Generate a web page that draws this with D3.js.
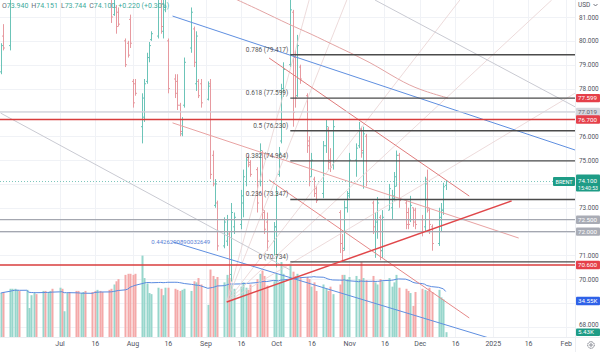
<!DOCTYPE html>
<html>
<head>
<meta charset="utf-8">
<script src="https://cdn.jsdelivr.net/npm/d3@7"></script>
<style>
  html, body { margin: 0; padding: 0; background: #fff; }
  svg { display: block; font-family: Roboto, "Liberation Sans", sans-serif; }
</style>
</head>
<body>
<svg id="chart" width="600" height="352"></svg>
<script>
// daily bars, weekdays from firstDay on
const firstDay = "2024-06-06";
const open = [
  78.7, 80.2,
  79.8, 81.8, 82.1, 82.8, 82.9,
  82.6, 84.4, 85.1, 85.2, 85.9,
  85.3, 86.4, 85.1, 85.2, 86.5,
  86.0, 87.0, 86.4, 87.1, 87.2,
  86.8, 85.9, 84.8, 85.3, 85.6,
  85.2, 84.6, 83.8, 85.3, 85.2,
  83.9, 82.4, 81.1, 81.4, 81.2,
  80.0, 79.9, 80.9, 78.3, 78.2,
  76.4, 76.8, 78.3, 79.3, 80.05,
  80.2, 82.0, 80.4, 81.3, 80.0,
  78.4, 78.3, 77.3, 76.1, 77.3,
  79.7, 80.5, 78.2, 78.3, 78.2,
  77.55, 78.2, 75.2, 73.1, 73.2,
  71.4, 71.6, 71.9, 70.2, 72.2,
  72.3, 73.2, 74.1, 75.1, 74.9,
  74.6, 74.1, 75.3, 72.8, 72.4,
  71.6, 72.2, 74.4, 75.8, 78.0,
  79.0, 81.2, 79.3, 77.7, 78.9,
  77.7, 75.8, 74.3, 74.2, 73.8,
  73.6, 75.6, 76.3, 75.0, 74.8,
  72.8, 71.5, 71.3, 73.0, 73.6,
  75.0, 75.6, 76.3, 75.3, 76.0,
  73.2, 72.0, 72.4, 72.6, 71.2,
  72.9, 73.0, 73.4, 73.9, 75.2,
  73.2, 72.8, 72.5, 73.0, 72.9,
  72.5, 72.2, 74.2, 72.9, 72.2,
  71.5, 72.5, 72.9, 73.94
];
const high = [
  79.9, 80.7,
  82.0, 82.4, 83.3, 83.1, 83.3,
  84.6, 85.3, 85.7, 86.0, 86.2,
  86.6, 86.5, 85.6, 86.6, 87.2,
  87.2, 87.4, 87.4, 87.5, 87.8,
  87.0, 86.0, 85.6, 86.0, 86.1,
  85.5, 84.8, 85.5, 85.7, 85.4,
  84.0, 82.6, 82.2, 81.5, 81.4,
  80.1, 80.0, 81.1, 78.4, 78.4,
  77.8, 78.4, 79.5, 79.95, 80.4,
  82.0, 82.3, 81.9, 82.3, 80.1,
  78.6, 78.6, 77.4, 76.8, 79.3,
  81.4, 80.6, 80.4, 78.4, 78.4,
  78.3, 78.4, 75.4, 74.2, 73.3,
  72.6, 72.7, 72.0, 73.2, 72.8,
  73.75, 74.6, 75.1, 75.2, 75.0,
  74.7, 75.7, 75.4, 72.9, 72.8,
  72.4, 73.9, 75.55, 78.2, 79.1,
  81.78, 81.3, 79.6, 80.25, 79.0,
  77.8, 76.0, 75.3, 74.3, 73.9,
  75.8, 76.7, 76.4, 75.5, 76.7,
  72.9, 71.9, 73.3, 73.7, 75.3,
  75.7, 76.6, 76.4, 76.4, 76.1,
  73.3, 72.8, 73.45, 72.7, 72.9,
  74.0, 73.75, 74.5, 75.4, 75.3,
  73.3, 73.0, 73.5, 73.0, 73.0,
  72.7, 74.3, 74.6, 73.0, 72.3,
  73.0, 73.2, 74.05, 74.151
];
const low = [
  78.6, 79.6,
  79.6, 81.8, 81.9, 82.0, 82.2,
  82.3, 84.0, 84.8, 84.9, 85.0,
  85.0, 84.8, 84.3, 84.9, 85.8,
  85.9, 86.3, 85.9, 86.8, 86.5,
  85.6, 84.4, 84.3, 84.9, 84.8,
  84.1, 83.4, 83.6, 84.7, 83.7,
  82.0, 80.75, 81.05, 80.3, 80.6,
  78.9, 79.3, 79.7, 77.2, 77.7,
  75.7, 76.6, 78.2, 79.1, 80.0,
  80.1, 80.3, 80.1, 81.2, 77.8,
  77.6, 77.1, 76.0, 76.0, 77.2,
  79.5, 78.9, 77.9, 77.6, 77.2,
  77.5, 74.2, 73.9, 73.0, 71.2,
  71.3, 71.4, 69.05, 69.9, 71.9,
  72.1, 72.6, 73.9, 74.7, 74.3,
  72.8, 73.9, 72.5, 71.9, 71.2,
  71.0, 70.5, 74.3, 75.7, 77.65,
  78.9, 76.4, 77.2, 77.65, 78.2,
  75.3, 73.9, 74.3, 73.45, 73.2,
  73.4, 75.3, 74.6, 74.5, 74.6,
  71.1, 70.734, 71.2, 72.8, 73.4,
  74.3, 75.5, 75.1, 73.8, 73.9,
  71.9, 70.9, 71.7, 70.8, 70.9,
  72.9, 72.5, 73.3, 73.9, 73.0,
  72.1, 72.1, 72.4, 72.2, 72.1,
  71.8, 72.0, 72.8, 71.9, 71.2,
  71.4, 72.0, 72.7, 73.744
];
const close = [
  79.8, 79.7,
  81.8, 82.1, 82.8, 82.9, 82.6,
  84.4, 85.1, 85.2, 85.9, 85.3,
  86.4, 85.1, 85.2, 86.5, 86.0,
  87.0, 86.4, 87.1, 87.2, 86.8,
  85.9, 84.8, 85.3, 85.6, 85.2,
  84.6, 83.8, 85.3, 85.2, 83.9,
  82.4, 81.0, 81.9, 80.6, 80.7,
  79.0, 79.4, 79.9, 77.4, 77.8,
  77.6, 78.2, 79.3, 79.8, 80.3,
  81.9, 80.6, 81.4, 82.0, 78.0,
  77.8, 77.3, 76.2, 76.7, 79.1,
  81.2, 79.1, 80.2, 77.7, 77.4,
  78.1, 74.4, 74.0, 74.0, 71.4,
  72.4, 72.5, 69.5, 72.8, 72.6,
  73.5, 74.3, 75.0, 74.8, 74.4,
  73.2, 75.4, 72.9, 72.1, 71.6,
  72.2, 73.6, 75.3, 78.0, 78.8,
  81.3, 77.0, 77.6, 79.8, 78.4,
  75.6, 74.1, 75.0, 73.6, 73.3,
  75.6, 76.4, 74.9, 74.7, 76.4,
  71.5, 71.2, 73.0, 73.5, 75.0,
  75.5, 76.3, 75.4, 76.1, 74.1,
  72.2, 72.5, 73.2, 71.2, 72.6,
  73.8, 73.5, 74.3, 75.2, 73.3,
  72.3, 72.3, 73.1, 72.4, 72.3,
  72.0, 74.0, 73.0, 72.3, 71.5,
  72.6, 72.9, 73.88, 74.1
];
// thousands of contracts
const volume = [
  42, 43,
  46, 46, 46, 45, 44,
  45, 28, 40, 42, 41,
  44, 44, 43, 44, 46,
  47, 46, 25, 42, 43,
  44, 44, 42, 43, 44,
  43, 44, 45, 44, 43,
  45, 46, 50, 53, 55,
  59, 60, 60, 59, 60,
  77, 56, 51, 42, 41,
  47, 46, 40, 47, 47,
  46, 45, 44, 45, 46,
  44, 53, 52, 56, 50,
  31, 64, 58, 55, 57,
  52, 59, 56, 50, 46,
  48, 52, 47, 45, 50,
  55, 60, 63, 58, 49,
  53, 60, 52, 71, 60,
  68, 62, 58, 60, 56,
  57, 55, 48, 52, 44,
  50, 46, 44, 48, 41,
  50, 59, 59, 55, 57,
  58, 55, 71, 56, 54,
  58, 52, 50, 55, 53,
  56, 48, 52, 59, 47,
  46, 44, 42, 30, 43,
  46, 45, 44, 47, 43,
  45, 38, 36, 5.43
];

const timeTicks  = ["2024-07-01", "2024-07-16", "2024-08-01", "2024-08-16", "2024-09-01", "2024-09-16",
                    "2024-10-01", "2024-10-16", "2024-11-01", "2024-11-16", "2024-12-01", "2024-12-16",
                    "2025-01-01", "2025-01-16", "2025-02-01"];
const timeLabels = ["Jul", "16", "Aug", "16", "Sep", "16", "Oct", "16", "Nov", "16", "Dec", "16", "2025", "16", "Feb"];
const gridPrices = [68, 69, 70, 71, 72, 73, 74, 75, 76, 77, 78, 79, 80, 81];
// levels whose axis label is not hidden by a price tag
const labelPrices = [68, 70, 71, 73, 75, 76, 78, 79, 80, 81];

// drawings (date, price)
const fibLevels = [0.786, 0.618, 0.5, 0.382, 0.236, 0];
const fibPrices = [79.417, 77.599, 76.230, 74.964, 73.347, 70.734];
const fibFrom = "2024-10-07";
const redLevels  = [76.7, 70.6];
const grayLevels = [72.5, 72.0];
const lightLevel = 77.019;
const lastPrice  = 74.1;
const volMALast  = 34.55;
const blueUpper  = [["2024-08-18", 81.04], ["2025-02-05", 75.42]];
const blueLower  = [["2024-08-18", 71.57], ["2025-01-02", 67.46]];
const triUpper   = [["2024-09-28", 79.28], ["2024-12-22", 73.49]];
const pinkMid    = [["2024-08-18", 76.56], ["2025-01-12", 71.73]];
const pinkLow    = [["2024-09-28", 74.17], ["2024-12-22", 68.38]];
const redRising  = [["2024-09-10", 69.05], ["2025-01-09", 73.29]];
const grayTop    = [["2024-11-12", 81.71], ["2025-02-05", 77.23]];
const grayLeft   = [["2024-06-06", 76.97], ["2024-10-07", 70.39]];
const envelope   = [["2024-09-10", 81.92], ["2024-09-24", 81.29], ["2024-10-07", 80.66], ["2024-10-15", 80.33],
                    ["2024-10-28", 79.70], ["2024-11-10", 79.11], ["2024-11-22", 78.36], ["2024-12-01", 77.94],
                    ["2024-12-13", 77.60]];
const fanPivot   = ["2024-09-10", 69.05];
const fanEnds    = [["2024-10-15", 81.71], ["2024-10-31", 81.71], ["2024-12-18", 81.71],
                    ["2025-01-26", 81.71], ["2025-02-05", 77.81]];
const ratioLabel = ["2024-08-09", 71.5, "0.4426290890032649"];

const TEAL = "#6cc4b8", PINK = "#e79aa0";
const VTEAL = "#97d6cc", VPINK = "#f4a9a9";
const plotW = 575, plotH = 337;
const FONT = "Roboto, 'Liberation Sans', sans-serif";

const parse = d3.timeParse("%Y-%m-%d");
const dates = [];
for (let d = parse(firstDay); dates.length < close.length; d = d3.timeDay.offset(d, 1)) {
    if (d.getDay() !== 0 && d.getDay() !== 6) dates.push(d);
}
const bars = dates.map((d, i) => ({ date: d, o: open[i], h: high[i], l: low[i], c: close[i], v: volume[i] }));
const volMA = volume.map((v, i) => d3.mean(volume.slice(Math.max(0, i - 19), i + 1)));

const x = d3.scaleTime().domain([parse("2024-07-01"), parse("2025-02-01")]).range([59.5, 565.8]);
const y = d3.scaleLinear().domain([67.58, 81.713]).range([337, 0]);
const yVol = d3.scaleLinear().domain([0, 100]).range([338, 231]);
const px = d => Math.round(x(d)) + 0.5;
const pt = p => [x(parse(p[0])), y(p[1])];

const svg = d3.select("#chart");
svg.append("rect").attr("width", 600).attr("height", 352).attr("fill", "#fff");
svg.append("defs").append("clipPath").attr("id", "plot")
    .append("rect").attr("width", plotW).attr("height", plotH);
const plot = svg.append("g").attr("clip-path", "url(#plot)");

// Grid
plot.append("g").selectAll("line").data(gridPrices).join("line")
    .attr("x1", 0).attr("x2", plotW)
    .attr("y1", d => Math.round(y(d)) + 0.5).attr("y2", d => Math.round(y(d)) + 0.5)
    .attr("stroke", "#f0f2f6");
plot.append("g").selectAll("line").data(timeTicks).join("line")
    .attr("x1", d => px(parse(d))).attr("x2", d => px(parse(d)))
    .attr("y1", 0).attr("y2", plotH)
    .attr("stroke", "#f0f2f6");

// Volume
plot.append("g").selectAll("rect").data(bars).join("rect")
    .attr("x", d => Math.round(x(d.date)) - 0.5).attr("width", 2)
    .attr("y", d => yVol(d.v)).attr("height", d => yVol(0) - yVol(d.v))
    .attr("fill", d => d.c >= d.o ? VTEAL : VPINK);
plot.append("path").datum(volMA)
    .attr("fill", "none").attr("stroke", "#5a8be0").attr("stroke-width", 1)
    .attr("d", d3.line().x((d, i) => x(dates[i])).y(d => yVol(d)));

// Price bars
const bar = plot.append("g").selectAll("g").data(bars).join("g")
    .attr("stroke", d => d.c >= d.o ? TEAL : PINK).attr("stroke-width", 1);
bar.append("line")
    .attr("x1", d => px(d.date)).attr("x2", d => px(d.date))
    .attr("y1", d => y(d.h)).attr("y2", d => y(d.l));
bar.append("line")
    .attr("x1", d => px(d.date) - 1.5).attr("x2", d => px(d.date))
    .attr("y1", d => y(d.o)).attr("y2", d => y(d.o));
bar.append("line")
    .attr("x1", d => px(d.date)).attr("x2", d => px(d.date) + 1.5)
    .attr("y1", d => y(d.c)).attr("y2", d => y(d.c));

// Drawings
const seg = (pts, color, width) => plot.append("path")
    .attr("d", d3.line()(pts.map(pt)))
    .attr("fill", "none").attr("stroke", color).attr("stroke-width", width);

fanEnds.forEach(e => seg([fanPivot, e], "#e8d2d2", 0.8));
seg(grayTop, "#c9cad2", 1);
seg(grayLeft, "#c9cad2", 1);
plot.append("path")
    .attr("d", d3.line().curve(d3.curveBasis)(envelope.map(pt)))
    .attr("fill", "none").attr("stroke", "#e3a4a4").attr("stroke-width", 1);
seg(blueUpper, "#5f8fe0", 1);
seg(blueLower, "#5f8fe0", 1);
seg(pinkMid, "#e9a3a3", 1);
seg(pinkLow, "#e58888", 1);
seg(triUpper, "#e07b7b", 1);

const hline = (p, x0, color, width, dash) => plot.append("line")
    .attr("x1", x0).attr("x2", plotW).attr("y1", y(p)).attr("y2", y(p))
    .attr("stroke", color).attr("stroke-width", width)
    .attr("stroke-dasharray", dash || null);

hline(lightLevel, 0, "#cfd1d8", 1.2);
grayLevels.forEach(p => hline(p, 0, "#a4a7b0", 1.2));
hline(lastPrice, 0, "#7cc7bc", 1, "1,2");
fibPrices.forEach(p => hline(p, x(parse(fibFrom)), "#4b4b4b", 1.3));
redLevels.forEach(p => hline(p, 0, "#d83c3c", 1.6));
seg(redRising, "#e0474a", 1.5);

plot.append("g").selectAll("text").data(fibLevels).join("text")
    .attr("x", x(parse(fibFrom)) - 2).attr("y", (d, i) => y(fibPrices[i]) - 3)
    .attr("text-anchor", "end").attr("font-size", 6.5).attr("fill", "#555")
    .text((d, i) => `${d} (${fibPrices[i].toFixed(3)})`);
plot.append("text")
    .attr("x", x(parse(ratioLabel[0]))).attr("y", y(ratioLabel[1]))
    .attr("font-size", 6).attr("fill", "#5a7fd6").text(ratioLabel[2]);

// Legend
const last = bars[bars.length - 1];
const prev = bars[bars.length - 2];
const chg = last.c - prev.c;
const leg = svg.append("text").attr("x", 2).attr("y", 8).attr("font-size", 7);
[["O", last.o], ["H", last.h], ["L", last.l], ["C", last.c]].forEach(([k, v], i) => {
    leg.append("tspan").attr("fill", "#6a6d78").attr("dx", i ? 3 : 0).text(k);
    leg.append("tspan").attr("fill", "#3daa9b").text(v.toFixed(3));
});
leg.append("tspan").attr("fill", "#3daa9b").attr("dx", 3)
    .text(`+${chg.toFixed(3)} (+${(chg / prev.c * 100).toFixed(2)}%)`);

// Axes
svg.append("line").attr("x1", 0).attr("x2", 600).attr("y1", plotH + 0.5).attr("y2", plotH + 0.5)
    .attr("stroke", "#eceef2");
svg.append("line").attr("x1", plotW + 0.5).attr("x2", plotW + 0.5).attr("y1", 0).attr("y2", 352)
    .attr("stroke", "#eceef2");

svg.append("g").attr("transform", `translate(0,${plotH})`)
    .call(d3.axisBottom(x).tickValues(timeTicks.map(parse)).tickFormat((d, i) => timeLabels[i])
        .tickSize(0).tickPadding(4))
    .call(g => g.select(".domain").remove())
    .call(g => g.selectAll("text").attr("fill", "#50535e").attr("font-size", 7).attr("font-family", FONT));

svg.append("g").attr("transform", `translate(${plotW},0)`)
    .call(d3.axisRight(y).tickValues(labelPrices).tickFormat(d3.format(".3f")).tickSize(0).tickPadding(4))
    .call(g => g.select(".domain").remove())
    .call(g => g.selectAll("text").attr("fill", "#50535e").attr("font-size", 6.4).attr("font-family", FONT))
    .call(g => g.selectAll(".tick").filter(d => d === 68).select("text").attr("dy", "-0.15em"));

svg.append("text").attr("x", 578).attr("y", 7).attr("font-size", 6.5).attr("fill", "#50535e").text("USD");
svg.append("path").attr("d", "M593.5,4 L595.5,6 L597.5,4")
    .attr("fill", "none").attr("stroke", "#50535e").attr("stroke-width", 0.8);

// Price tags
const tag = (cy, label, bg, fg, h = 8.4) => {
    svg.append("rect").attr("x", 576).attr("y", cy - h / 2).attr("width", 24).attr("height", h)
        .attr("rx", 1).attr("fill", bg);
    svg.append("text").attr("x", 578).attr("y", cy + 2.2).attr("font-size", 6.2)
        .attr("fill", fg).text(label);
};
tag(y(fibPrices[1]), fibPrices[1].toFixed(3), "#e5404a", "#fff");
tag(y(lightLevel), lightLevel.toFixed(3), "#d5d7dd", "#5d606b");
tag(y(redLevels[0]), redLevels[0].toFixed(3), "#e5404a", "#fff");
grayLevels.forEach(p => tag(y(p), p.toFixed(3), "#a9acb5", "#fff"));
tag(y(redLevels[1]), redLevels[1].toFixed(3), "#e5404a", "#fff");
tag(yVol(volMALast), `${volMALast.toFixed(2)}K`, "#2f62e8", "#fff");
tag(Math.min(yVol(last.v), 335.5), `${last.v.toFixed(2)}K`, "#1e9c86", "#fff", 7.6);

const ly = y(last.c);
svg.append("rect").attr("x", 553).attr("y", ly - 4.5).attr("width", 22).attr("height", 9)
    .attr("rx", 1).attr("fill", "#1e9c86");
svg.append("text").attr("x", 564).attr("y", ly + 2).attr("text-anchor", "middle")
    .attr("font-size", 5.5).attr("fill", "#fff").text("BRENT");
svg.append("rect").attr("x", 576).attr("y", ly - 7).attr("width", 24).attr("height", 17)
    .attr("rx", 1).attr("fill", "#1e9c86");
svg.append("text").attr("x", 578).attr("y", ly + 1).attr("font-size", 6.2).attr("fill", "#fff")
    .text(last.c.toFixed(3));
svg.append("text").attr("x", 578).attr("y", ly + 8).attr("font-size", 5.2).attr("fill", "#fff")
    .text("15:40:53");

// settings gear
svg.append("circle").attr("cx", 591).attr("cy", 345).attr("r", 3.3)
    .attr("fill", "none").attr("stroke", "#6a6d78").attr("stroke-width", 0.9)
    .attr("stroke-dasharray", "1.6,0.6");
svg.append("circle").attr("cx", 591).attr("cy", 345).attr("r", 1.2)
    .attr("fill", "none").attr("stroke", "#6a6d78").attr("stroke-width", 0.8);
</script>
</body>
</html>
